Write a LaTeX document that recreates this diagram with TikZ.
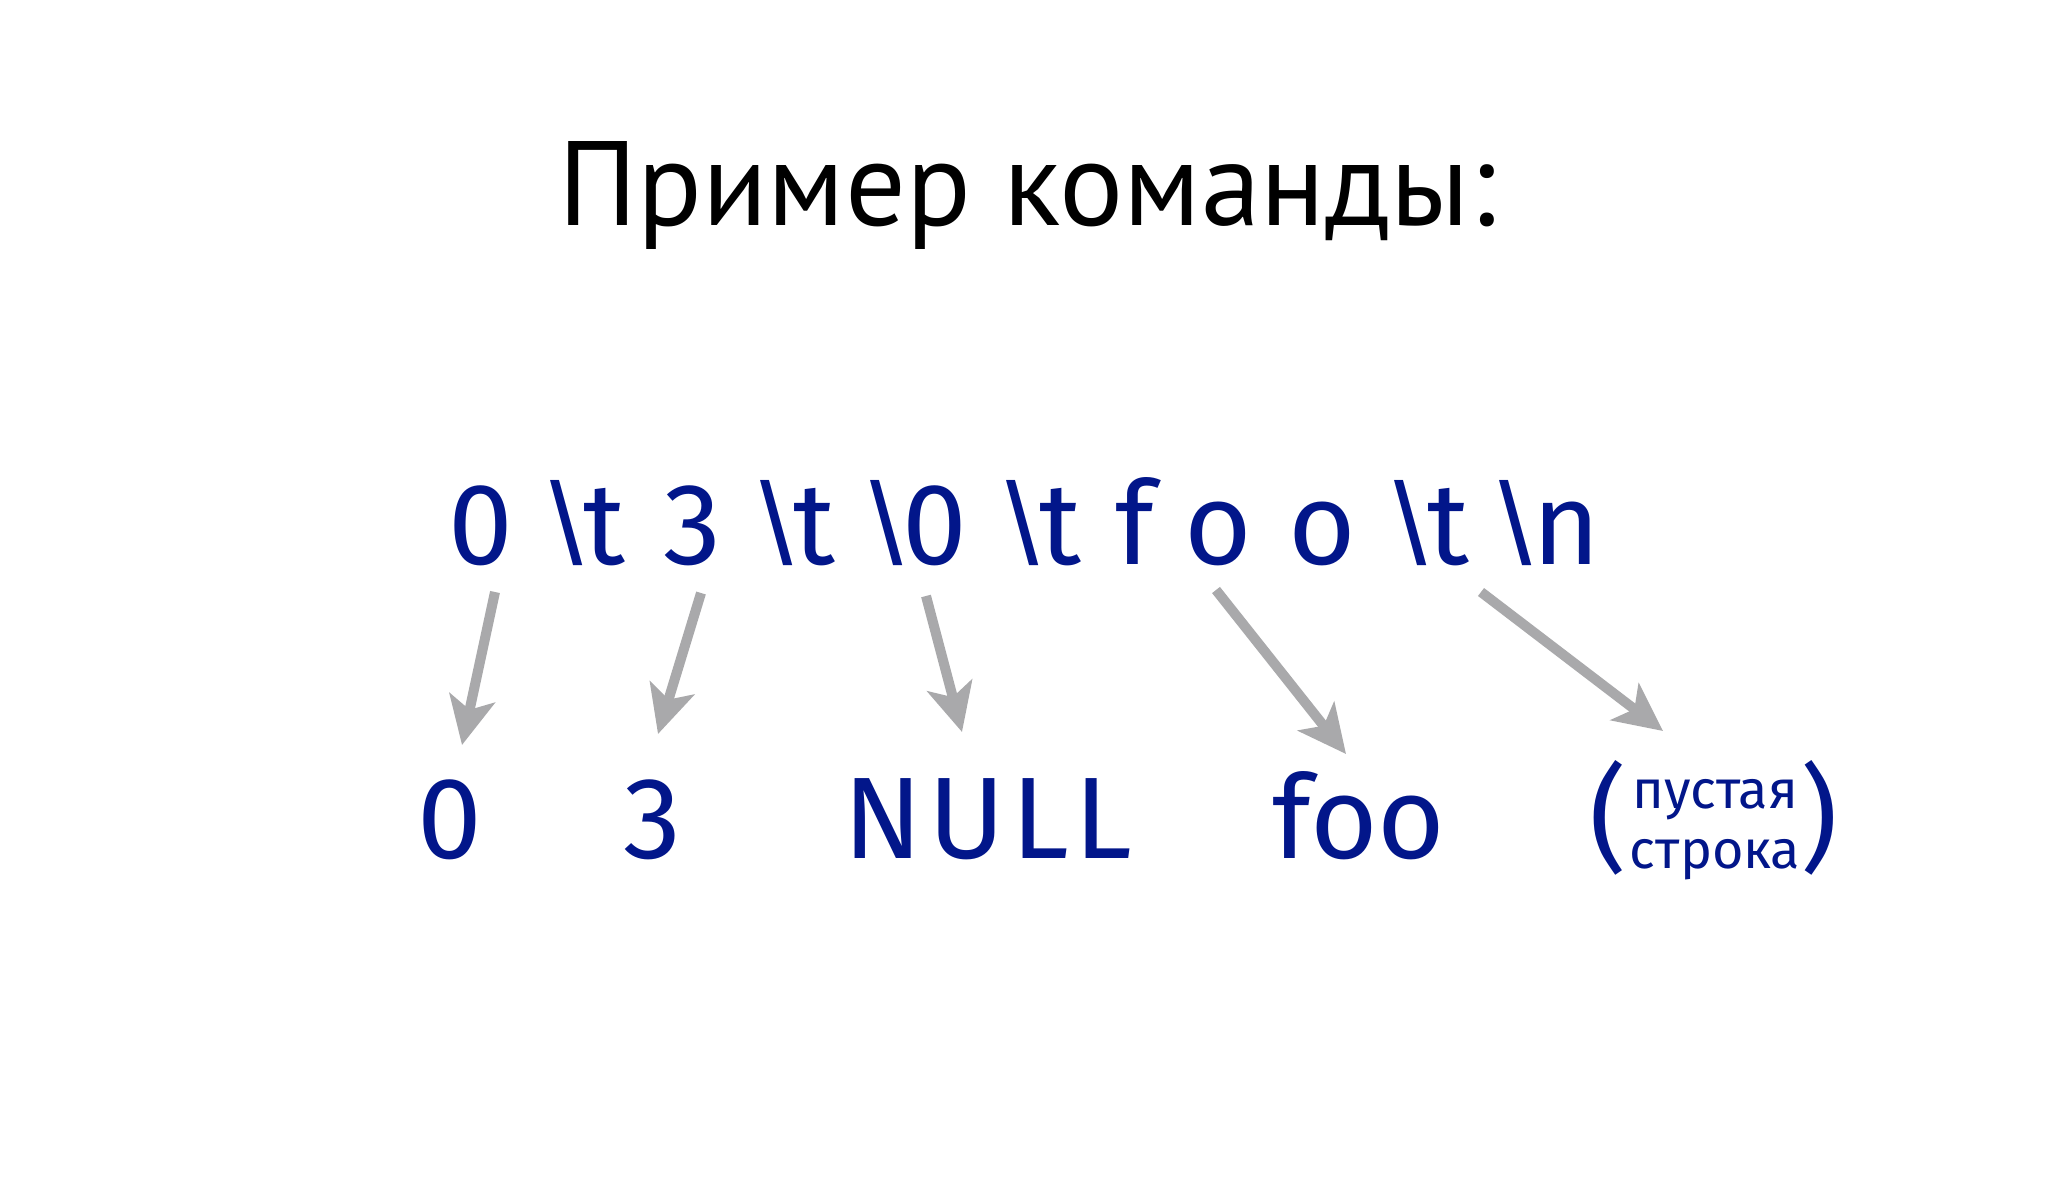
\documentclass[tikz,border=0pt]{standalone}
\usepackage{fontspec}
\setmainfont{PT Sans}
\newfontfamily\tokfont{Fira Sans}
\newfontfamily\bsfont{Liberation Sans}
\usetikzlibrary{arrows.meta,calc}
\definecolor{cmdblue}{RGB}{2,22,138}
\definecolor{arrgray}{RGB}{169,169,171}
\newcommand{\bsl}{{\bsfont\textbackslash}}

\begin{document}
\begin{tikzpicture}
[x=0.5pt,y=-0.5pt,
 title/.style = {font=\fontsize{60}{68}\selectfont, anchor=base, inner sep=0pt},
 tok/.style = {font=\tokfont\fontsize{58}{66}\selectfont, text=cmdblue, anchor=base, inner sep=0pt},
 small/.style = {font=\tokfont\fontsize{27}{32}\selectfont, text=cmdblue, anchor=base, inner sep=0pt},
 arr/.style = {draw=arrgray, line width=5pt, -{Stealth[length=24pt,width=23pt,inset=6pt]}},]
\useasboundingbox (0,0) rectangle (2048,1199);
\fill[white] (0,0) rectangle (2048,1199);

\node (title) at (1027,225)[title] {Пример команды:};

% input line
\node (t0) at (481,564)[tok] {0};
\node (t1) at (588,564)[tok] {\bsl t};
\node (t2) at (692,564)[tok] {3};
\node (t3) at (798,564)[tok] {\bsl t};
\node (t4) at (919,564)[tok] {\bsl 0};
\node (t5) at (1044,564)[tok] {\bsl t};
\node (t6) at (1135,564)[tok] {f};
\node (t7) at (1218,564)[tok] {o};
\node (t8) at (1322,564)[tok] {o};
\node (t9) at (1432,564)[tok] {\bsl t};
\node (t10) at (1550,564)[tok] {\bsl n};

% parsed fields
\node (b0) at (450,858)[tok] {0};
\node (b1) at (652,858)[tok] {3};
\node (b2) at (988,858)[tok] {\addfontfeature{LetterSpace=5}NULL};
\node (b3) at (1359,858)[tok] {foo};
\node (lp) at (1608,858)[tok] {(};
\node (rp) at (1819,858)[tok] {)};
\node (e1) at (1715,808)[small] {пустая};
\node (e2) at (1715,868)[small] {строка};

\coordinate (s1) at (495,592);  \coordinate (h1) at (462,745);
\coordinate (s2) at (701,593);  \coordinate (h2) at (658,734);
\coordinate (s3) at (926,596);  \coordinate (h3) at (962,732);
\coordinate (s4) at (1216,590); \coordinate (h4) at (1346,754);
\coordinate (s5) at (1481,592); \coordinate (h5) at (1663,731);
\draw[arr] (s1)--(h1);
\draw[arr] (s2)--(h2);
\draw[arr] (s3)--(h3);
\draw[arr] (s4)--(h4);
\draw[arr] (s5)--(h5);
\end{tikzpicture}
\end{document}
